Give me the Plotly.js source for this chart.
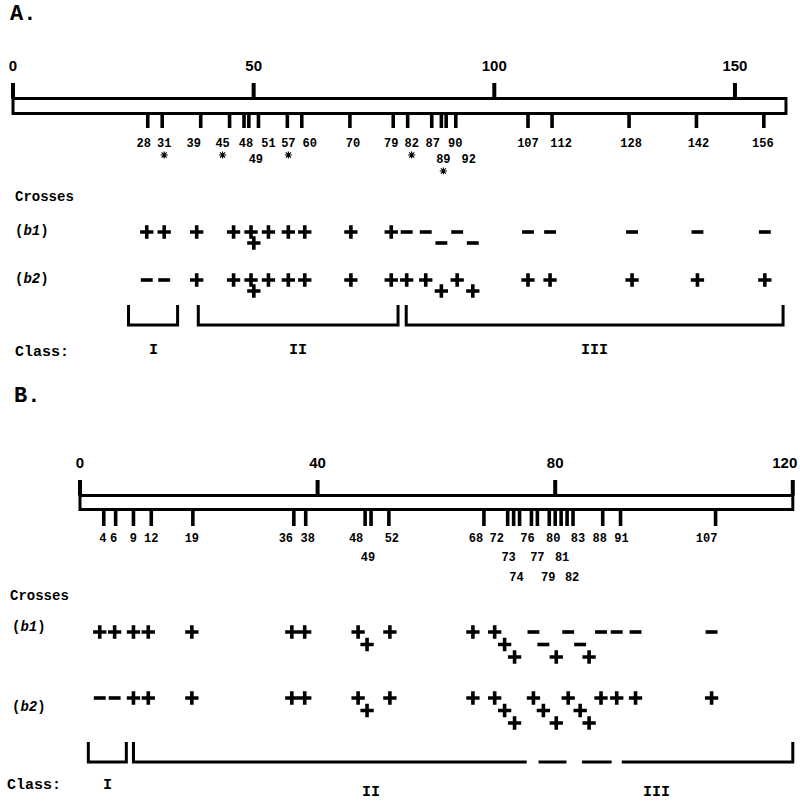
<!DOCTYPE html>
<html><head><meta charset="utf-8">
<script src="https://cdn.plot.ly/plotly-3.0.1.min.js"></script>
<style>body{margin:0;background:#fff}</style>
</head><body><div id="chart" style="width:800px;height:805px"></div>
<script>
// ---------- Panel A data ----------
const lociA = [28,31,39,45,48,49,51,57,60,70,79,82,87,89,90,92,107,112,128,142,156];
const tierA = [0,0,0,0,0,1,0,0,0,0,0,0,0,1,0,1,0,0,0,0,0];
const b1A = ['+','+','+','+','+','+','+','+','+','+','+','-','-','-','-','-','-','-','-','-','-'];
const b2A = ['-','-','+','+','+','+','+','+','+','+','+','+','+','+','+','+','+','+','+','+','+'];
const starredA = [31,45,57,82,89];
const majorA = [0,50,100,150];
const lengthA = 160.6;
const classNamesA = ['I','II','III'];
const classStartA = [24,38.5,81.7];
const classEndA = [34.2,80,160];

// ---------- Panel B data ----------
const lociB = [4,6,9,12,19,36,38,48,49,52,68,72,73,74,76,77,79,80,81,82,83,88,91,107];
const tierB = [0,0,0,0,0,0,0,0,1,0,0,0,1,2,0,1,2,0,1,2,0,0,0,0];
const b1B = ['+','+','+','+','+','+','+','+','+','+','+','+','+','+','-','-','+','-','-','+','-','-','-','-'];
const b2B = ['-','-','+','+','+','+','+','+','+','+','+','+','+','+','+','+','+','+','+','+','+','+','+','+'];
const majorB = [0,40,80,120];
const lengthB = 120;
const classNamesB = ['I','II','III'];
const classStartB = [1.4,9.0,91.2];
const classEndB = [7.8,75.2,120];
const classLeftEdgeB = [true,true,false];
const classRightEdgeB = [true,false,true];
const gapStartB = [77.2,84.5];
const gapEndB = [81.9,89.5];

// ---------- layout config (positions / styles, in pixels) ----------
const W = 800, H = 805;
const PX = {A:{x0:13, k:4.813}, B:{x0:80, k:5.94}};
const Y = {
  A:{title:14, major:67, tickTop:83, barTop:98.5, barBot:113.5, minorBot:128, labelRows:[144,160],
     star:11, crosses:197, b1:232, b2:280, b1Lab:231, b2Lab:279, tier:11, brTop:305, brBot:325,
     cls:352, clsLab:[350,350,350], clsX:null, titleX:8, crossX:13, bX:13, clsTextX:13},
  B:{title:396, major:464, tickTop:480, barTop:495.5, barBot:509.5, minorBot:526, labelRows:[539,558,578],
     crosses:596, b1:632, b2:698, b1Lab:627, b2Lab:707, tier:12.5, brTop:742, brBot:762,
     cls:785, clsLab:[785,792,792], clsX:[4.6,49,97], titleX:12, crossX:8, bX:10, clsTextX:5}
};
// horizontal dodges (px) used to keep crowded labels / symbols legible, as in the figure
const labelDx = {
  A:{28:-4,31:2,39:-7,45:-7,48:2,49:7,51:10,57:1,60:8,70:3,79:-2,82:4,87:1,89:2,90:9,92:13,112:9,128:2,142:2,156:-1},
  B:{4:-1,6:-2,19:-1,36:-8,38:2,48:-9,49:-3,52:3,68:-8,72:-11,73:-5,74:-3,76:-4,79:-1,80:-2,81:1,82:5,83:5,88:-3,91:1,107:-9}
};
const symDx = {
  A:{28:-1,31:2,39:-4,45:4,48:7,49:5,51:10,57:1,60:3,70:1,79:-2,82:-1,87:-6,90:11,92:17,112:-2,128:3,142:1,156:1},
  B:{4:-4,6:-1,12:-3,19:-1,36:-2,38:-1,48:-7,49:-4,52:1,68:-11,72:-13,73:-9,74:-5,76:2,77:6,79:7,80:13,81:19,82:22,83:28,88:14,91:15,107:-4}
};
const majorDx = {A:{}, B:{120:-8}};
const MONO = 'Liberation Mono, Courier New, monospace';
const SANS = 'Liberation Sans, Arial, sans-serif';
const INK = '#000';

const traces = [];
const shapes = [];
const annotations = [];

function shift(key, table, v) { return v + ((table[key][v] || 0) / PX[key].k); }
function txt(x, y, text, ax, size, family) {
  traces.push({
    type:'scatter', mode:'text', x:x, y:y, text:text, xaxis:ax, yaxis:'y',
    textposition:'middle center', hoverinfo:'skip', showlegend:false, cliponaxis:false,
    textfont:{family:family||MONO, size:size||12, color:INK, weight:'bold'}
  });
}
function segs(xs, ys, ax, width) {
  traces.push({type:'scatter', mode:'lines', x:xs, y:ys, xaxis:ax, yaxis:'y',
    line:{color:INK, width:width}, hoverinfo:'skip', showlegend:false});
}
function signs(key, loci, tiers, vals, rowY, tierPx, ax) {
  const plus = {x:[], y:[]}, minus = {x:[], y:[]};
  loci.forEach((v,i) => {
    const t = vals[i] === '+' ? plus : minus;
    t.x.push(shift(key, symDx, v)); t.y.push(rowY + tiers[i]*tierPx);
  });
  traces.push({type:'scatter', mode:'markers', x:plus.x, y:plus.y, xaxis:ax, yaxis:'y', cliponaxis:false,
    marker:{symbol:'cross-thin-open', size:9.5, color:INK, line:{color:INK, width:3.6}}, hoverinfo:'skip', showlegend:false});
  traces.push({type:'scatter', mode:'markers', x:minus.x, y:minus.y, xaxis:ax, yaxis:'y', cliponaxis:false,
    marker:{symbol:'line-ew-open', size:8.5, color:INK, line:{color:INK, width:3.6}}, hoverinfo:'skip', showlegend:false});
}
function note(xpx, y, text, size, family) {
  annotations.push({xref:'paper', yref:'y', x:xpx/W, y:y, text:text, showarrow:false,
    xanchor:'left', yanchor:'middle', font:{family:family||MONO, size:size, color:INK, weight:'bold'}});
}

function panel(key, ax, loci, tiers, b1, b2, major, length) {
  const y = Y[key];
  // chromosome bar
  shapes.push({type:'rect', xref:ax, yref:'y', x0:0, x1:length, y0:y.barTop, y1:y.barBot,
    line:{color:INK, width:3}, fillcolor:'rgba(0,0,0,0)'});
  // major ticks + labels
  const mx = [], my = [];
  major.forEach(v => { mx.push(v, v, null); my.push(y.tickTop, y.barTop, null); });
  segs(mx, my, ax, 4);
  txt(major.map(v => shift(key, majorDx, v)), major.map(() => y.major), major.map(String), ax, 15, SANS);
  // locus ticks
  const nx = [], ny = [];
  loci.forEach(v => { nx.push(v, v, null); ny.push(y.barBot + 1.5, y.minorBot, null); });
  segs(nx, ny, ax, 3.6);
  // locus labels
  txt(loci.map(v => shift(key, labelDx, v)), loci.map((v,i) => y.labelRows[tiers[i]]), loci.map(String), ax, 12);
  // crosses
  signs(key, loci, tiers, b1, y.b1, y.tier, ax);
  signs(key, loci, tiers, b2, y.b2, y.tier, ax);
  note(y.titleX, y.title, key + '.', 22);
  note(y.crossX, y.crosses, 'Crosses', 14);
  note(y.bX, y.b1Lab, '(<i>b1</i>)', 14);
  note(y.bX, y.b2Lab, '(<i>b2</i>)', 14);
  note(y.clsTextX, y.cls, 'Class:', 15);
}

// ---- Panel A ----
panel('A', 'x', lociA, tierA, b1A, b2A, majorA, lengthA);
// asterisks marking starred loci (drawn as small asterisk markers under the labels)
traces.push({type:'scatter', mode:'markers', xaxis:'x', yaxis:'y', cliponaxis:false,
  x:starredA.map(v => shift('A', labelDx, v)),
  y:starredA.map(v => Y.A.labelRows[tierA[lociA.indexOf(v)]] + Y.A.star),
  marker:{symbol:'asterisk-open', size:6, color:INK, line:{color:INK, width:1.1}},
  hoverinfo:'skip', showlegend:false});
(function(){
  const xs = [], ys = [];
  classStartA.forEach((s,i) => {
    xs.push(s, s, classEndA[i], classEndA[i], null);
    ys.push(Y.A.brTop, Y.A.brBot, Y.A.brBot, Y.A.brTop, null);
  });
  segs(xs, ys, 'x', 3);
  classNamesA.forEach((n,i) => annotations.push({xref:'x', yref:'y', x:(classStartA[i]+classEndA[i])/2, y:Y.A.clsLab[i],
    text:n, showarrow:false, font:{family:MONO, size:15, color:INK, weight:'bold'}}));
})();

// ---- Panel B ----
panel('B', 'x2', lociB, tierB, b1B, b2B, majorB, lengthB);
(function(){
  const xs = [], ys = [];
  classStartB.forEach((s,i) => {
    const e = classEndB[i];
    if (classLeftEdgeB[i]) { xs.push(s, s); ys.push(Y.B.brTop, Y.B.brBot); } else { xs.push(s); ys.push(Y.B.brBot); }
    if (classRightEdgeB[i]) { xs.push(e, e); ys.push(Y.B.brBot, Y.B.brTop); } else { xs.push(e); ys.push(Y.B.brBot); }
    xs.push(null); ys.push(null);
  });
  gapStartB.forEach((s,i) => { xs.push(s, gapEndB[i], null); ys.push(Y.B.brBot, Y.B.brBot, null); });
  segs(xs, ys, 'x2', 3);
  classNamesB.forEach((n,i) => annotations.push({xref:'x2', yref:'y', x:Y.B.clsX[i], y:Y.B.clsLab[i],
    text:n, showarrow:false, font:{family:MONO, size:15, color:INK, weight:'bold'}}));
})();

function rangeOf(p){ return [-p.x0/p.k, (W - p.x0)/p.k]; }
const layout = {
  width:W, height:H, autosize:false,
  margin:{l:0, r:0, t:0, b:0, pad:0},
  paper_bgcolor:'#fff', plot_bgcolor:'#fff',
  showlegend:false,
  xaxis:{range:rangeOf(PX.A), visible:false, fixedrange:true},
  xaxis2:{range:rangeOf(PX.B), visible:false, overlaying:'x', anchor:'y', fixedrange:true},
  yaxis:{range:[H, 0], visible:false, fixedrange:true},
  shapes:shapes, annotations:annotations
};
Plotly.newPlot('chart', traces, layout, {staticPlot:true, displayModeBar:false});
</script>
</body></html>
